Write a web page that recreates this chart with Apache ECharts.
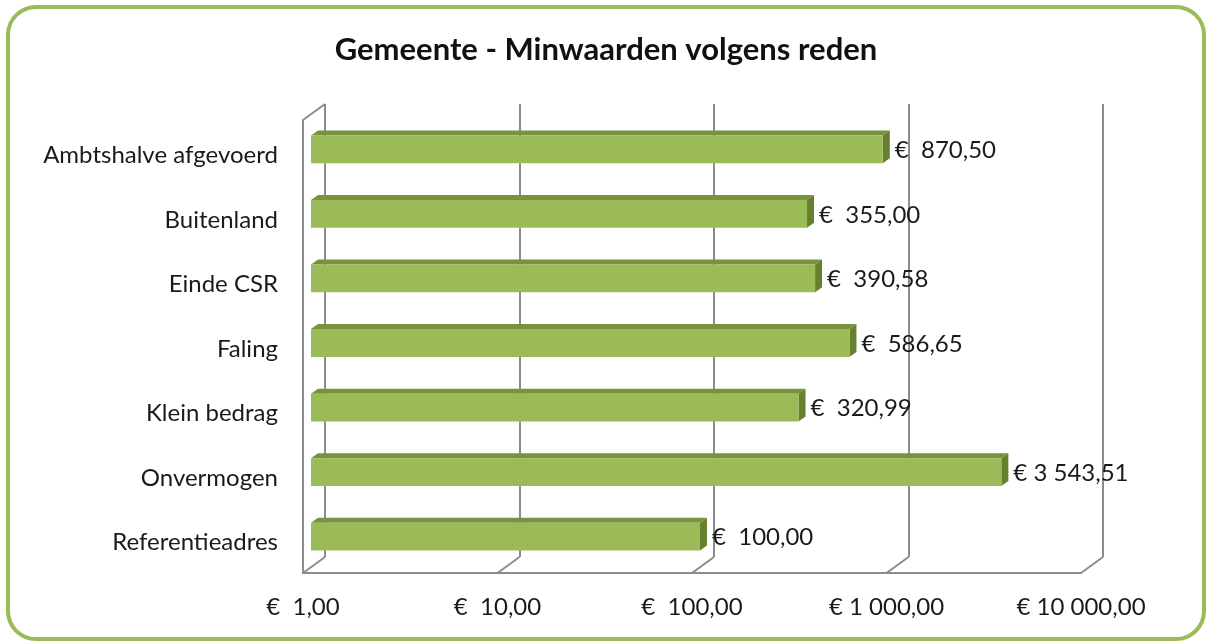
<!DOCTYPE html>
<html lang="nl">
<head>
    <meta charset="UTF-8"/>
    <title>Gemeente - Minwaarden volgens reden</title>
    <style>
        * {
            padding: 0;
            margin: 0;
        }

        body {
            background-color: #fff;
            width: 1212px;
            height: 644px;
            overflow: hidden;
        }

        .frame {
            position: absolute;
            left: 6px;
            top: 5px;
            width: 1192px;
            height: 628px;
            border: 4px solid #9bbb59;
            border-radius: 30px;
        }

        #chart {
            position: absolute;
            left: 0;
            top: 0;
            width: 1212px;
            height: 644px;
        }
    </style>
    <script src="https://cdn.jsdelivr.net/npm/echarts@6/dist/echarts.min.js"></script>
</head>
<body>
<div class="frame"></div>
<div id="chart"></div>
<script>
    const categories = ['Ambtshalve afgevoerd', 'Buitenland', 'Einde CSR', 'Faling', 'Klein bedrag', 'Onvermogen', 'Referentieadres']
    const values = [870.50, 355.00, 390.58, 586.65, 320.99, 3543.51, 100.00]
    const axisTicks = [1, 10, 100, 1000, 10000]

    const font = 'Lato, "Open Sans", sans-serif'
    const grey = '#8c8c8c'
    // depth of the 3d floor / walls and of the bars
    const wallDx = 22, wallDy = 16
    const barDx = 7, barDy = 5

    // accounting style: € 1 000,00  /  €  870,50
    function euro(v) {
        const parts = v.toFixed(2).split('.')
        const int = parts[0].replace(/\B(?=(\d{3})+(?!\d))/g, ' ')
        return (v < 1000 ? '€  ' : '€ ') + int + ',' + parts[1]
    }

    const chart = echarts.init(document.getElementById('chart'))

    const logAxis = {
        type: 'log',
        logBase: 10,
        min: 1,
        max: 10000,
    }

    chart.setOption({
        animation: false,
        title: {
            text: 'Gemeente - Minwaarden volgens reden',
            left: 'center',
            top: 29,
            textStyle: {
                fontFamily: font,
                fontSize: 31,
                fontWeight: 'bold',
                color: '#111'
            }
        },
        grid: [
            // back wall
            {left: 325, top: 104, width: 778, height: 453},
            // front floor edge + left wall
            {left: 303, top: 120, width: 778, height: 453},
            // bars
            {left: 311, top: 117, width: 778, height: 452},
            // category labels (sit a bit lower than the bars)
            {left: 311, top: 123, width: 778, height: 452}
        ],
        xAxis: [
            Object.assign({}, logAxis, {
                gridIndex: 0,
                axisLine: {show: false},
                axisTick: {show: false},
                axisLabel: {show: false},
                splitLine: {show: true, lineStyle: {color: grey, width: 2}}
            }),
            Object.assign({}, logAxis, {
                gridIndex: 1,
                axisLine: {show: true, lineStyle: {color: grey, width: 2}},
                axisTick: {show: false},
                splitLine: {show: false},
                axisLabel: {
                    margin: 22,
                    fontFamily: font,
                    fontSize: 24,
                    color: '#1a1a1a',
                    formatter: (v) => euro(v)
                }
            }),
            Object.assign({}, logAxis, {
                gridIndex: 2,
                show: false
            }),
            Object.assign({}, logAxis, {
                gridIndex: 3,
                show: false
            })
        ],
        yAxis: [
            {
                gridIndex: 0,
                type: 'value',
                min: 0,
                max: 1,
                show: false
            },
            {
                gridIndex: 1,
                type: 'value',
                min: 0,
                max: 1,
                axisLine: {show: true, lineStyle: {color: grey, width: 2}},
                axisTick: {show: false},
                axisLabel: {show: false},
                splitLine: {show: false}
            },
            {
                gridIndex: 2,
                type: 'category',
                data: categories,
                inverse: true,
                show: false
            },
            {
                gridIndex: 3,
                type: 'category',
                data: categories,
                inverse: true,
                axisLine: {show: false},
                axisTick: {show: false},
                splitLine: {show: false},
                axisLabel: {
                    margin: 33,
                    fontFamily: font,
                    fontSize: 24,
                    color: '#1a1a1a'
                }
            }
        ],
        series: [
            {
                // floor diagonals + top of left wall
                type: 'custom',
                xAxisIndex: 1,
                yAxisIndex: 1,
                silent: true,
                z: 1,
                data: axisTicks.map((t) => [t, 0]).concat([[1, 1]]),
                renderItem: function (params, api) {
                    const p = api.coord([api.value(0), api.value(1)])
                    return {
                        type: 'line',
                        shape: {x1: p[0], y1: p[1], x2: p[0] + wallDx, y2: p[1] - wallDy},
                        style: {stroke: grey, lineWidth: 2}
                    }
                }
            },
            {
                type: 'custom',
                xAxisIndex: 2,
                yAxisIndex: 2,
                z: 3,
                data: values.map((v, i) => [v, i]),
                renderItem: function (params, api) {
                    const val = api.value(0)
                    const start = api.coord([1, api.value(1)])
                    const end = api.coord([val, api.value(1)])
                    const h = api.size([0, 1])[1] * 0.43
                    const x0 = start[0], x1 = end[0]
                    const yT = start[1] - h / 2, yB = start[1] + h / 2
                    return {
                        type: 'group',
                        children: [
                            {
                                type: 'polygon',
                                shape: {points: [[x0, yT], [x0 + barDx, yT - barDy], [x1 + barDx, yT - barDy], [x1, yT]]},
                                style: {fill: '#77933c'}
                            },
                            {
                                type: 'polygon',
                                shape: {points: [[x1, yT], [x1 + barDx, yT - barDy], [x1 + barDx, yB - barDy], [x1, yB]]},
                                style: {fill: '#66802f'}
                            },
                            {
                                type: 'rect',
                                shape: {x: x0, y: yT, width: x1 - x0, height: h},
                                style: {fill: '#9bbb59'}
                            },
                            {
                                type: 'text',
                                x: x1 + barDx + 5,
                                y: start[1] + 1,
                                style: {
                                    text: euro(val),
                                    fontFamily: font,
                                    fontSize: 24,
                                    fill: '#1a1a1a',
                                    align: 'left',
                                    verticalAlign: 'middle'
                                }
                            }
                        ]
                    }
                }
            }
        ]
    })
</script>
</body>
</html>
